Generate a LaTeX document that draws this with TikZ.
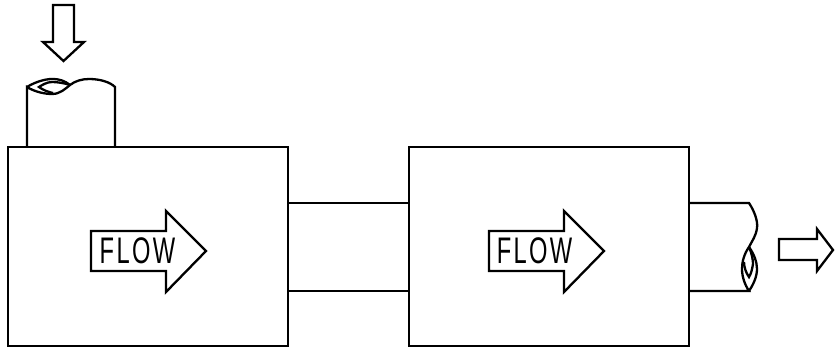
\documentclass[tikz,border=0pt]{standalone}
\usepackage{fontspec}
\setmainfont{Liberation Sans}
\newfontfamily\flowfont[LetterSpace=10]{Liberation Sans}
\tikzset{
  ln/.style={line width=2.3pt,line join=miter,black},
  boxn/.style={draw,ln,minimum width=280pt,minimum height=199pt,inner sep=0pt,outer sep=0pt,anchor=north west},
  flowtxt/.style={inner sep=0pt,xscale=.64,font=\flowfont\fontsize{37}{37}\selectfont,anchor=center}
}
\begin{document}
\begin{tikzpicture}[x=1pt,y=-1pt]
\useasboundingbox (0,0) rectangle (835,356);
\node[boxn] (L) at (8,147) {};
\node[boxn] (R) at (409,147) {};
\coordinate (a1) at (288,203); \coordinate (a2) at (409,203);
\coordinate (b1) at (288,291); \coordinate (b2) at (409,291);
\draw[ln] (a1) -- (a2);
\draw[ln] (b1) -- (b2);
% right pipe
\coordinate (c1) at (689,203); \coordinate (c2) at (749,203);
\coordinate (d1) at (689,291); \coordinate (d2) at (749,291);
\coordinate (m) at (749,247);
\draw[ln] (c1) -- (c2) .. controls (755,212) and (758,222) .. (757,228) .. controls (756,236) and (752,241) .. (m)
  .. controls (744,254) and (742,262) .. (742,269) .. controls (742,277) and (745,285) .. (d2) -- (d1);
\draw[ln] (m) .. controls (754,254) and (757,262) .. (757,269) .. controls (757,277) and (753,285) .. (d2);
\draw[ln] (m) .. controls (752,254) and (753,260) .. (753,264) .. controls (752,270) and (751,274) .. (749,277)
  .. controls (746,273) and (744,267) .. (744,262);
% top pipe
\coordinate (e1) at (27,147); \coordinate (e2) at (27,87);
\coordinate (f1) at (115,147); \coordinate (f2) at (115,87);
\coordinate (n) at (70,85);
\draw[ln] (e1) -- (e2) .. controls (35,92) and (45,94) .. (52,94) .. controls (60,94) and (65,89) .. (n)
  .. controls (75,81) and (82,79) .. (89,79) .. controls (100,79) and (110,82) .. (f2) -- (f1);
\draw[ln] (e2) .. controls (35,82) and (45,79) .. (52,79) .. controls (60,79) and (65,81) .. (n);
\draw[ln] (n) .. controls (64,83) and (57,82) .. (52,82) .. controls (47,82) and (42,85) .. (39,87)
  .. controls (43,90) and (48,92) .. (53,93);
% arrows
\draw[ln] (53,5) -- (74,5) -- (74,42) -- (84,42) -- (63.5,61) -- (43,42) -- (53,42) -- cycle;
\draw[ln] (779,239) -- (817,239) -- (817,229) -- (833,250) -- (817,271) -- (817,260) -- (779,260) -- cycle;
\draw[ln] (91,231) -- (166,231) -- (166,211) -- (206,251) -- (166,292) -- (166,271) -- (91,271) -- cycle;
\draw[ln] (489,231) -- (564,231) -- (564,211) -- (604,251) -- (564,292) -- (564,271) -- (489,271) -- cycle;
\node[flowtxt] (t1) at (137.5,250.5) {FLOW};
\node[flowtxt] (t2) at (534.5,250.5) {FLOW};
\end{tikzpicture}
\end{document}
